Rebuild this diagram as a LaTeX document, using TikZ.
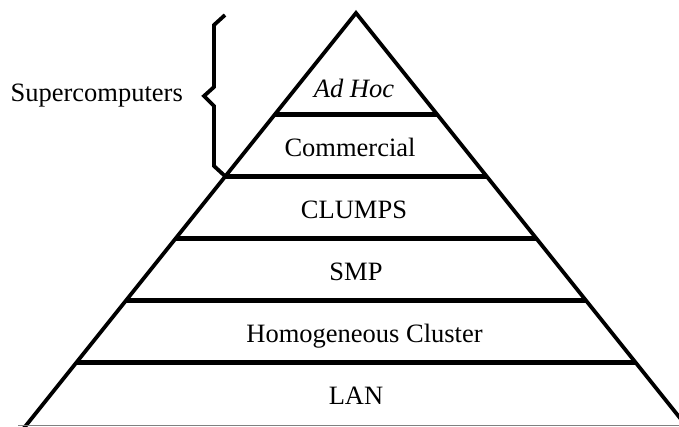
\documentclass[tikz,border=0pt]{standalone}
\usepackage{fontspec}
\setmainfont{Liberation Serif}
\begin{document}
\begin{tikzpicture}[x=1pt,y=-1pt,
  side/.style={line width=3.8pt,line join=miter},
  tier/.style={line width=5pt},
  lbl/.style={font=\fontsize{26.5}{30}\selectfont,inner sep=0pt,anchor=base},
  bracestyle/.style={line width=3.8pt,line join=miter}]
\useasboundingbox (0,0) rectangle (679,426);
\fill[white] (0,0) rectangle (679,426);
% pyramid geometry: apex (356,13), dx/dy = 0.8
\coordinate (apex) at (356,13);
\coordinate (bl) at (22.8,429.5);
\coordinate (br) at (689.2,429.5);
\coordinate (l1) at (275.2,114); \coordinate (r1) at (436.8,114);
\coordinate (l2) at (225.6,176); \coordinate (r2) at (486.4,176);
\coordinate (l3) at (176,238);   \coordinate (r3) at (536,238);
\coordinate (l4) at (126.4,300); \coordinate (r4) at (585.6,300);
\coordinate (l5) at (76.8,362);  \coordinate (r5) at (635.2,362);
\begin{scope}
\clip (0,0) rectangle (679,426);
\draw[side] (bl) -- (apex) -- (br);
\draw[tier] (l1) -- (r1);
\draw[tier] (l2) -- (r2);
\draw[tier] (l3) -- (r3);
\draw[tier] (l4) -- (r4);
\draw[tier] (l5) -- (r5);
\end{scope}
\draw[gray,line width=0.8pt] (18,425.6) -- (679,425.6);
% labels
\node[lbl] (adhoc) at (354,97) {\textit{Ad Hoc}};
\node[lbl] (comm) at (350,156) {Commercial};
\node[lbl] (clumps) at (354,218) {CLUMPS};
\node[lbl] (smp) at (356,280) {SMP};
\node[lbl] (homog) at (364.5,342) {Homogeneous Cluster};
\node[lbl] (lan) at (356,404) {LAN};
% brace
\coordinate (b0) at (225,15);
\coordinate (b1) at (214,25);
\coordinate (b2) at (214,87);
\coordinate (bt) at (204,96);
\coordinate (b3) at (214,106);
\coordinate (b4) at (214,166);
\coordinate (b5) at (226,177);
\draw[bracestyle] (b0) -- (b1) -- (b2) -- (bt) -- (b3) -- (b4) -- (b5);
\node[lbl,anchor=base east] (super) at (183,101) {Supercomputers};
\end{tikzpicture}
\end{document}
